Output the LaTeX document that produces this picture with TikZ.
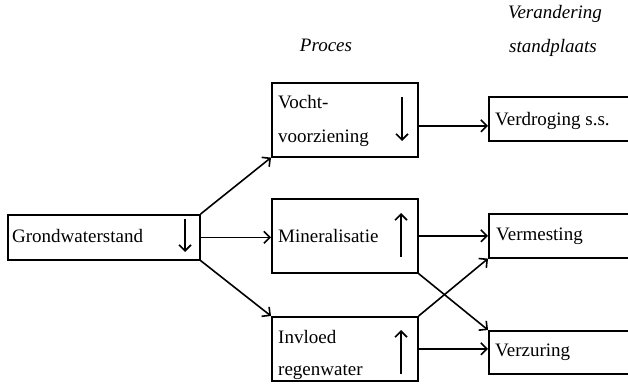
\documentclass[tikz,border=0pt]{standalone}
\usepackage{fontspec}
\setmainfont{Liberation Serif}
\usetikzlibrary{arrows.meta}
\begin{document}
\begin{tikzpicture}[x=1pt,y=-1pt,
  box/.style={draw, line width=1.6pt, inner sep=0pt, anchor=north west},
  lbl/.style={anchor=west, inner sep=0pt, font=\fontsize{19}{21}\selectfont},
  hdr/.style={anchor=center, inner sep=0pt, font=\fontsize{19}{21}\selectfont\itshape},
  conn/.style={line width=1.6pt, -{Straight Barb[length=6pt,width=12pt]}},
  trend/.style={line width=1.6pt, -{Straight Barb[length=6pt,width=12pt]}}]
\useasboundingbox (0,0) rectangle (628,390);
% boxes
\node[box, minimum width=192pt, minimum height=45pt] (gw) at (7,214) {};
\node[box, minimum width=146pt, minimum height=74pt] (vocht) at (271,82) {};
\node[box, minimum width=146pt, minimum height=74pt] (mine) at (271,198) {};
\node[box, minimum width=146pt, minimum height=64pt] (inv) at (271,316) {};
\node[box, minimum width=170pt, minimum height=44pt] (verd) at (488,96) {};
\node[box, minimum width=170pt, minimum height=44pt] (verm) at (488,213) {};
\node[box, minimum width=170pt, minimum height=43pt] (verz) at (488,330) {};
% texts
\node[lbl] (tgw) at (12,236) {Grondwaterstand};
\node[lbl] (tv1) at (278,102) {Vocht-};
\node[lbl] (tv2) at (278,138) {voorziening};
\node[lbl] (tmi) at (278,236) {Mineralisatie};
\node[lbl] (ti1) at (278,337) {Invloed};
\node[lbl] (ti2) at (278,372) {regenwater};
\node[lbl] (tvd) at (495,121) {Verdroging s.s.};
\node[lbl] (tvm) at (496,236) {Vermesting};
\node[lbl] (tvz) at (495,352) {Verzuring};
% headers
\node[hdr] (hp) at (326,45) {Proces};
\node[hdr] (hv1) at (555,14) {Verandering};
\node[hdr] (hv2) at (553,48) {standplaats};
% trend arrows
\coordinate (a1s) at (185,219); \coordinate (a1e) at (185,252);
\coordinate (a2s) at (402,97);  \coordinate (a2e) at (402,141);
\coordinate (a3s) at (401,257); \coordinate (a3e) at (401,213);
\coordinate (a4s) at (401,374); \coordinate (a4e) at (401,330);
\draw[trend] (a1s) -- (a1e);
\draw[trend] (a2s) -- (a2e);
\draw[trend] (a3s) -- (a3e);
\draw[trend] (a4s) -- (a4e);
% connectors
\draw[conn] (gw.north east) -- (vocht.south west);
\draw[conn] (gw.east) -- (gw.east -| mine.west);
\draw[conn] (gw.south east) -- (inv.north west);
\draw[conn] ([yshift=-6pt]vocht.east) -- ([yshift=-6pt]vocht.east -| verd.west);
\draw[conn] (mine.east) -- (mine.east -| verm.west);
\draw[conn] (mine.south east) -- (verz.north west);
\draw[conn] (inv.north east) -- (verm.south west);
\draw[conn] (inv.east) -- (inv.east -| verz.west);
\end{tikzpicture}
\end{document}
